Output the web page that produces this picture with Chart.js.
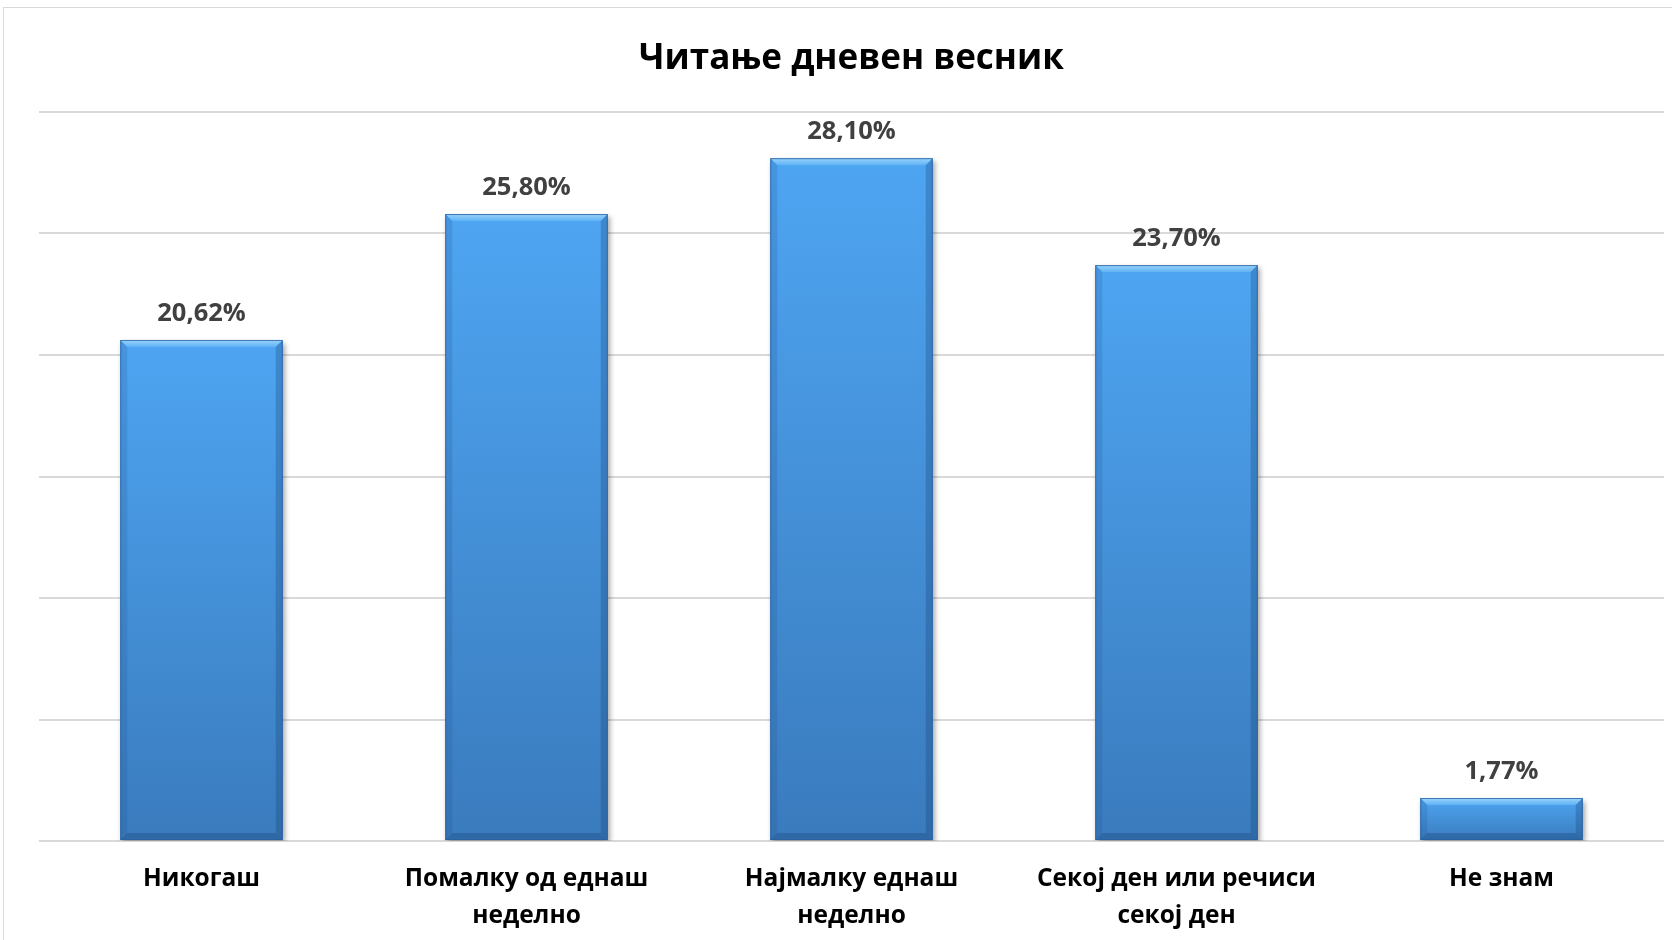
<!DOCTYPE html>
<html>
<head>
<meta charset="utf-8">
<script src="https://cdn.jsdelivr.net/npm/chart.js@4.4.1/dist/chart.umd.min.js"></script>
<style>
  html, body { margin: 0; padding: 0; background: #fff; overflow: hidden; }
  #wrap { position: relative; width: 1672px; height: 940px; }
  #frame {
    position: absolute; left: 3px; top: 7px; width: 1700px; height: 960px;
    border: 1px solid #d9d9d9; pointer-events: none;
  }
</style>
</head>
<body>
<div id="wrap">
  <canvas id="chart" width="1672" height="940"></canvas>
  <div id="frame"></div>
</div>
<script>
// data
const categories = [
    'Никогаш',
    ['Помалку од еднаш', 'неделно'],
    ['Најмалку еднаш', 'неделно'],
    ['Секој ден или речиси', 'секој ден'],
    'Не знам'
];
const shares = [20.62, 25.80, 28.10, 23.70, 1.77];
const shareLabels = ['20,62%', '25,80%', '28,10%', '23,70%', '1,77%'];
const yTicks = [0, 5, 10, 15, 20, 25, 30];

const FONT = "'Open Sans', 'Noto Sans', sans-serif";

// per-bar vertical gradient, lighter at the top
function barFill(c) {
    const chart = c.chart;
    if (!chart.chartArea || !chart.scales.y) return '#4596e0';
    const y = chart.scales.y;
    const top = y.getPixelForValue(c.raw);
    const bot = y.getPixelForValue(0);
    const g = chart.ctx.createLinearGradient(0, top, 0, bot);
    g.addColorStop(0, '#4ea5f2');
    g.addColorStop(1, '#3a7bbd');
    return g;
}

// soft drop shadow under the bars
const barShadow = {
    id: 'barShadow',
    beforeDatasetsDraw(chart) {
        const ctx = chart.ctx;
        ctx.save();
        ctx.shadowColor = 'rgba(0, 0, 0, 0.35)';
        ctx.shadowBlur = 5;
        ctx.shadowOffsetX = 2;
        ctx.shadowOffsetY = 3;
    },
    afterDatasetsDraw(chart) {
        chart.ctx.restore();
    }
};

// bevel edges + value labels on top of each bar
const barBevel = {
    id: 'barBevel',
    afterDatasetsDraw(chart) {
        const ctx = chart.ctx;
        const meta = chart.getDatasetMeta(0);
        const b = 7;
        meta.data.forEach((bar, i) => {
            const l = bar.x - bar.width / 2;
            const r = bar.x + bar.width / 2;
            const t = bar.y;
            const bt = bar.base;
            const d = Math.min(b, (bt - t) / 2);
            ctx.save();
            // top edge
            ctx.beginPath();
            ctx.moveTo(l, t); ctx.lineTo(r, t); ctx.lineTo(r - d, t + d); ctx.lineTo(l + d, t + d);
            ctx.closePath();
            const gt = ctx.createLinearGradient(0, t, 0, t + d);
            gt.addColorStop(0, '#9ad4fb');
            gt.addColorStop(1, '#5fb2f5');
            ctx.fillStyle = gt;
            ctx.fill();
            // left edge
            ctx.beginPath();
            ctx.moveTo(l, t); ctx.lineTo(l + d, t + d); ctx.lineTo(l + d, bt - d); ctx.lineTo(l, bt);
            ctx.closePath();
            ctx.fillStyle = 'rgba(30, 80, 140, 0.18)';
            ctx.fill();
            // right edge
            ctx.beginPath();
            ctx.moveTo(r, t); ctx.lineTo(r - d, t + d); ctx.lineTo(r - d, bt - d); ctx.lineTo(r, bt);
            ctx.closePath();
            ctx.fillStyle = 'rgba(20, 60, 110, 0.28)';
            ctx.fill();
            // bottom edge
            ctx.beginPath();
            ctx.moveTo(l, bt); ctx.lineTo(r, bt); ctx.lineTo(r - d, bt - d); ctx.lineTo(l + d, bt - d);
            ctx.closePath();
            ctx.fillStyle = 'rgba(20, 60, 110, 0.3)';
            ctx.fill();
            // outline
            ctx.strokeStyle = 'rgba(40, 95, 160, 0.8)';
            ctx.lineWidth = 1;
            ctx.strokeRect(l + 0.5, t + 0.5, r - l - 1, bt - t - 1);
            ctx.restore();

            ctx.save();
            ctx.font = 'bold 25.5px ' + FONT;
            ctx.fillStyle = '#404040';
            ctx.textAlign = 'center';
            ctx.textBaseline = 'alphabetic';
            ctx.fillText(shareLabels[i], bar.x, t - 19);
            ctx.restore();
        });
    }
};

new Chart(document.getElementById('chart'), {
    type: 'bar',
    data: {
        labels: categories,
        datasets: [{
            data: shares,
            backgroundColor: barFill,
            borderWidth: 0,
            categoryPercentage: 1,
            barPercentage: 0.5
        }]
    },
    options: {
        responsive: false,
        animation: false,
        layout: { padding: { left: 39, right: 8, top: 0, bottom: 0 } },
        plugins: {
            legend: { display: false },
            tooltip: { enabled: false },
            title: {
                display: true,
                text: 'Читање дневен весник',
                color: '#000',
                font: { family: FONT, size: 35, weight: 'bold', lineHeight: 1.2 },
                padding: { top: 38, bottom: 32 }
            }
        },
        scales: {
            y: {
                min: 0,
                max: 30,
                afterBuildTicks(scale) {
                    scale.ticks = yTicks.map(v => ({ value: v }));
                },
                afterFit(scale) { scale.width = 0; },
                ticks: { display: false },
                border: { display: false },
                grid: { color: '#d9d9d9', lineWidth: 2, drawTicks: false }
            },
            x: {
                afterFit(scale) { scale.height = 99; },
                border: { display: false },
                grid: { display: false, drawTicks: false },
                ticks: {
                    color: '#000',
                    padding: 20,
                    maxRotation: 0,
                    autoSkip: false,
                    font: { family: FONT, size: 24.5, weight: 'bold', lineHeight: 1.5 }
                }
            }
        }
    },
    plugins: [barShadow, barBevel]
});
</script>
</body>
</html>
